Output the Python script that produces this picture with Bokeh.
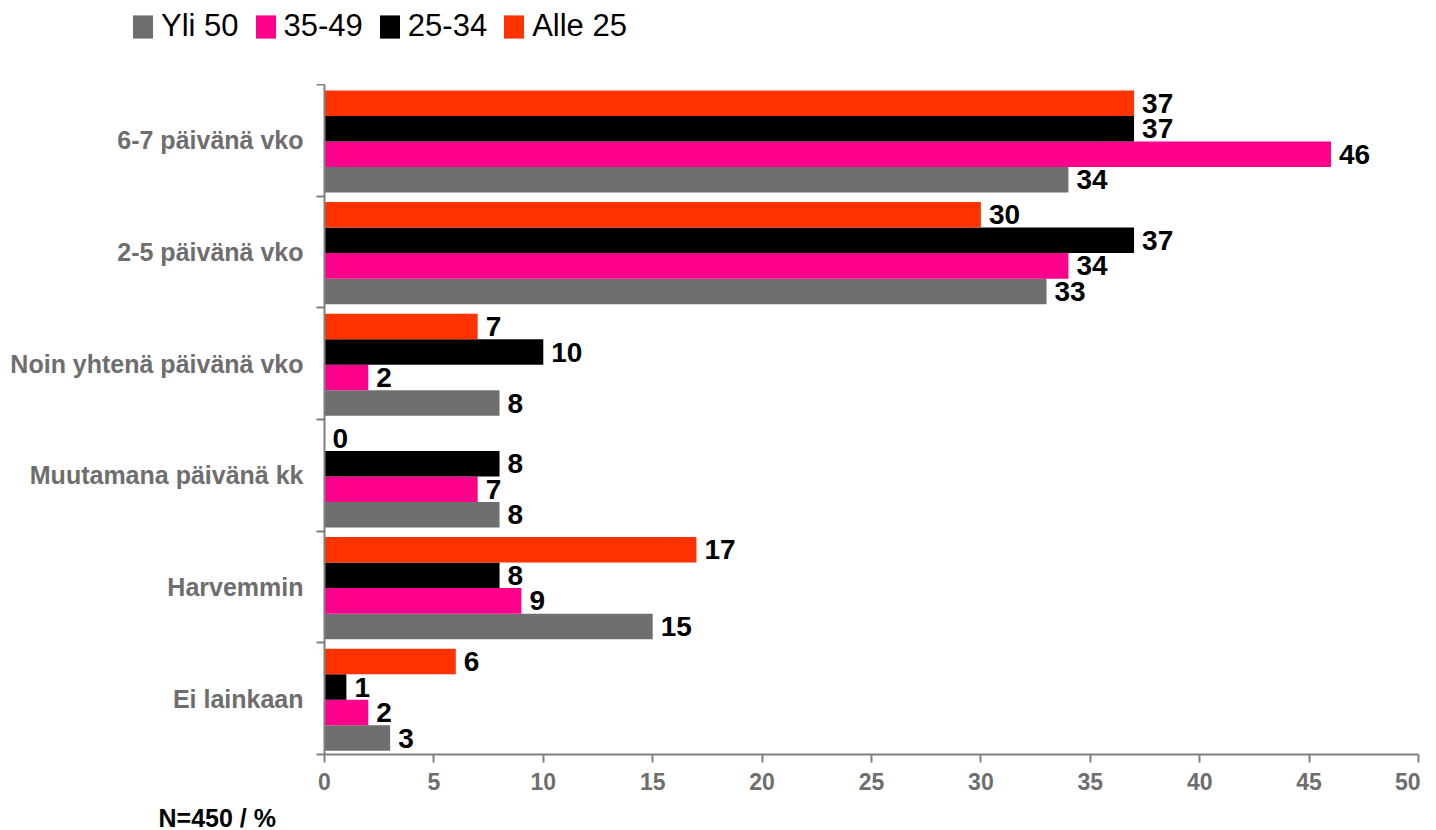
from bokeh.plotting import figure
from bokeh.layouts import column
from bokeh.models import Range1d, FixedTicker, Legend, LegendItem, Label, ColumnDataSource
from bokeh.core.properties import value
from bokeh.embed import file_html
from bokeh.resources import INLINE

categories = ["6-7 päivänä vko", "2-5 päivänä vko", "Noin yhtenä päivänä vko",
              "Muutamana päivänä kk", "Harvemmin", "Ei lainkaan"]
alle25 = [37, 30, 7, 0, 17, 6]
v25_34 = [37, 37, 10, 8, 8, 1]
v35_49 = [46, 34, 2, 7, 9, 2]
yli50 = [34, 33, 8, 8, 15, 3]
series_names = ["Yli 50", "35-49", "25-34", "Alle 25"]
series_values = [yli50, v35_49, v25_34, alle25]
colors = ["#6f6f6f", "#ff008c", "#000000", "#ff3300"]
x_ticks = [0, 5, 10, 15, 20, 25, 30, 35, 40, 45, 50]
note = "N=450 / %"

FONT = "Liberation Sans"
W = 1420
n = len(categories)
centers = [n - 0.5 - i for i in range(n)]
bar_h = 0.2285
offsets = [-1.5 * bar_h, -0.5 * bar_h, 0.5 * bar_h, 1.5 * bar_h]


def strip(h):
    f = figure(width=W, height=h, output_backend="svg", toolbar_location=None,
               x_range=Range1d(0, 1), y_range=Range1d(0, 1),
               x_axis_location=None, y_axis_location=None,
               frame_width=W, frame_height=h,
               min_border=0, min_border_left=0, min_border_right=0,
               min_border_top=0, min_border_bottom=0)
    f.outline_line_color = None
    f.xgrid.grid_line_color = None
    f.ygrid.grid_line_color = None
    try:
        f.frame_align = False
    except Exception:
        pass
    return f


# ---- legend strip ----
leg = strip(84)
items = []
for name, col in zip(series_names, colors):
    r = leg.hbar(y=[-10], left=[0], right=[0.1], height=0.1, fill_color=col, line_color=None)
    items.append(LegendItem(label=name, renderers=[r]))
legend = Legend(items=items, orientation="horizontal", location=(130, 40),
                label_text_font=FONT, label_text_font_size="31px",
                label_text_color="black",
                glyph_width=25, glyph_height=29, label_standoff=6, spacing=14,
                padding=0, margin=0, border_line_alpha=0, background_fill_alpha=0)
leg.add_layout(legend, "center")

# ---- main chart ----
p = figure(width=W, height=714, output_backend="svg", toolbar_location=None,
           x_range=Range1d(0, 50), y_range=Range1d(0, n),
           min_border_left=324, min_border_right=2, min_border_top=0, min_border_bottom=44)
p.outline_line_color = None
p.xgrid.grid_line_color = None
p.ygrid.grid_line_color = None

for name, vals, col, off in zip(series_names, series_values, colors, offsets):
    ys = [c + off - 0.01 for c in centers]
    src = ColumnDataSource(dict(y=ys, right=vals, lab=[str(v) for v in vals]))
    p.hbar(y="y", left=0, right="right", height=bar_h, source=src,
           fill_color=col, line_color=None)
    p.text(x="right", y="y", text="lab", source=src, x_offset=8,
           text_align="left", text_baseline="middle",
           text_font=value(FONT), text_font_size="28px", text_font_style="bold",
           text_color="black")

axis_color = "#7f7f7f"
label_color = "#6e6e6e"

ya = p.yaxis[0]
ya.ticker = FixedTicker(ticks=centers, minor_ticks=list(range(n + 1)))
ya.major_label_overrides = {c: cat for c, cat in zip(centers, categories)}
ya.major_tick_out = 0
ya.major_tick_in = 0
ya.minor_tick_out = 8
ya.minor_tick_in = 0
ya.minor_tick_line_color = axis_color
ya.minor_tick_line_width = 2
ya.axis_line_color = axis_color
ya.axis_line_width = 2
ya.major_label_standoff = 13
ya.major_label_text_font = FONT
ya.major_label_text_font_size = "25px"
ya.major_label_text_font_style = "bold"
ya.major_label_text_color = label_color

xa = p.xaxis[0]
xa.ticker = FixedTicker(ticks=x_ticks, minor_ticks=[])
xa.major_tick_out = 8
xa.major_tick_in = 0
xa.major_tick_line_color = axis_color
xa.major_tick_line_width = 2
xa.axis_line_color = axis_color
xa.axis_line_width = 2
xa.major_label_standoff = 10
xa.major_label_text_font = FONT
xa.major_label_text_font_size = "23px"
xa.major_label_text_font_style = "bold"
xa.major_label_text_color = label_color

# ---- note strip ----
nf = strip(32)
nf.add_layout(Label(x=158, y=13, x_units="screen", y_units="screen", text=note,
                    text_font=FONT, text_font_size="25px", text_font_style="bold",
                    text_color="black", text_align="left", text_baseline="middle"))

layout = column(leg, p, nf, spacing=0)
open("out.html", "w").write(file_html(layout, INLINE))
